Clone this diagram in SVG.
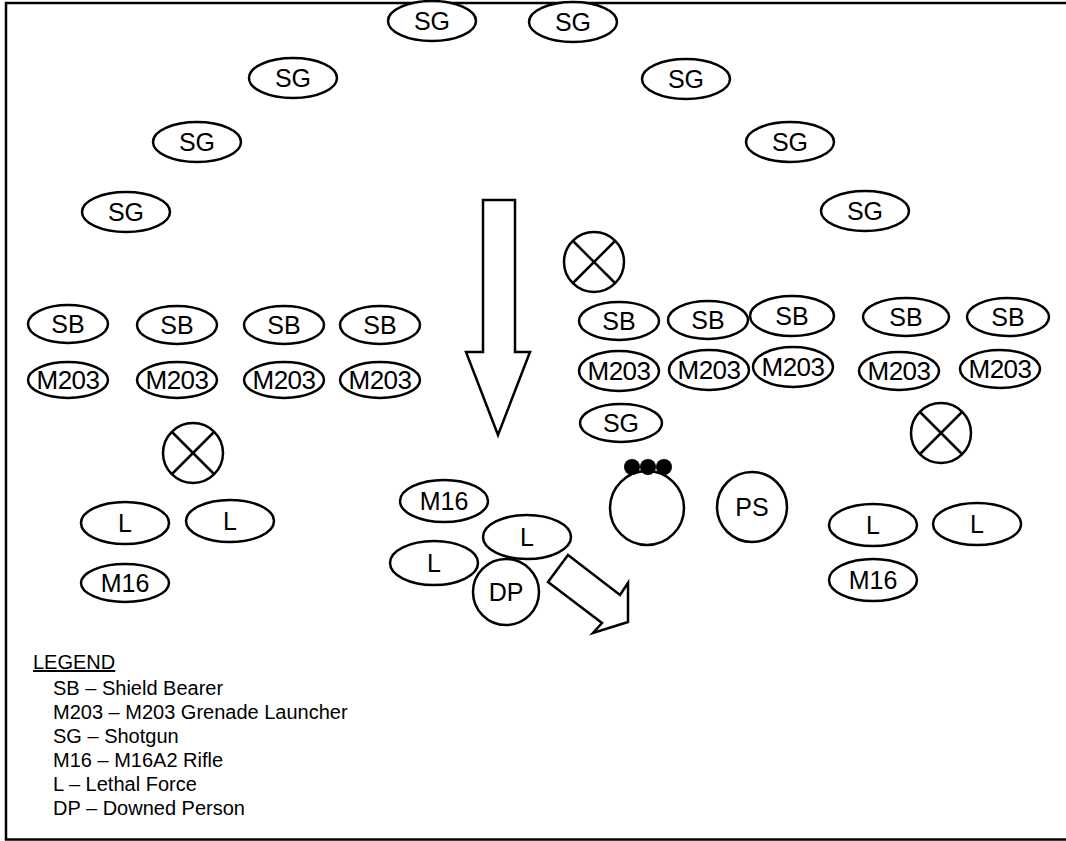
<svg xmlns="http://www.w3.org/2000/svg" width="1066" height="841" viewBox="0 0 1066 841">
<style>
.n ellipse, .n circle, .sh { fill: #fff; stroke: #000; stroke-width: 2.5; }
.n text { font-family: "Liberation Sans", Arial, sans-serif; font-size: 25px; text-anchor: middle; dominant-baseline: central; fill: #000; }
.n text.m { font-size: 26px; letter-spacing: -0.5px; }
.n circle.dot { fill: #000; stroke: none; }
.x line { stroke: #000; stroke-width: 2.5; }
.leg { font-family: "Liberation Sans", Arial, sans-serif; font-size: 20px; fill: #000; }
</style>
<rect width="1066" height="841" fill="#fff"/>
<path d="M1066,3 H6 V839.5 H1066" fill="none" stroke="#000" stroke-width="2.5"/>

<g id="connectors">
  <polygon class="sh" points="483,200 515,200 515,352 530,352 498,435 466,352 483,352"/>
  <polygon class="sh" points="568,555 620,595 628,583 628,622 593,633 602,623 548,582"/>
</g>

<g id="sg-top1" class="n"><ellipse cx="432" cy="21" rx="44" ry="20"/><text x="432" y="21">SG</text></g>
<g id="sg-top2" class="n"><ellipse cx="573" cy="22" rx="44" ry="20"/><text x="573" y="22">SG</text></g>
<g id="sg-l1" class="n"><ellipse cx="293" cy="78" rx="44" ry="20"/><text x="293" y="78">SG</text></g>
<g id="sg-r1" class="n"><ellipse cx="686" cy="79" rx="44" ry="20"/><text x="686" y="79">SG</text></g>
<g id="sg-l2" class="n"><ellipse cx="197" cy="142" rx="44" ry="20"/><text x="197" y="142">SG</text></g>
<g id="sg-r2" class="n"><ellipse cx="790" cy="142" rx="44" ry="20"/><text x="790" y="142">SG</text></g>
<g id="sg-l3" class="n"><ellipse cx="126" cy="212" rx="44" ry="20"/><text x="126" y="212">SG</text></g>
<g id="sg-r3" class="n"><ellipse cx="865" cy="211" rx="44" ry="20"/><text x="865" y="211">SG</text></g>

<g id="sb-l1" class="n"><ellipse cx="68" cy="324" rx="40" ry="19"/><text x="68" y="324">SB</text></g>
<g id="sb-l2" class="n"><ellipse cx="177" cy="325" rx="40" ry="19"/><text x="177" y="325">SB</text></g>
<g id="sb-l3" class="n"><ellipse cx="284" cy="325" rx="40" ry="19"/><text x="284" y="325">SB</text></g>
<g id="sb-l4" class="n"><ellipse cx="380" cy="325" rx="40" ry="19"/><text x="380" y="325">SB</text></g>
<g id="m203-l1" class="n"><ellipse cx="68" cy="380" rx="40" ry="18"/><text class="m" x="68" y="380">M203</text></g>
<g id="m203-l2" class="n"><ellipse cx="177" cy="380" rx="40" ry="18"/><text class="m" x="177" y="380">M203</text></g>
<g id="m203-l3" class="n"><ellipse cx="284" cy="380" rx="40" ry="18"/><text class="m" x="284" y="380">M203</text></g>
<g id="m203-l4" class="n"><ellipse cx="380" cy="380" rx="40" ry="18"/><text class="m" x="380" y="380">M203</text></g>

<g id="x-left" class="n x"><circle cx="193" cy="453" r="30"/><line x1="172" y1="432" x2="214" y2="474"/><line x1="214" y1="432" x2="172" y2="474"/></g>
<g id="l-l1" class="n"><ellipse cx="125" cy="523" rx="44" ry="21"/><text x="125" y="523">L</text></g>
<g id="l-l2" class="n"><ellipse cx="230" cy="521" rx="44" ry="21"/><text x="230" y="521">L</text></g>
<g id="m16-l" class="n"><ellipse cx="125" cy="583" rx="44" ry="19"/><text x="125" y="583">M16</text></g>

<g id="m16-m" class="n"><ellipse cx="444" cy="501" rx="44" ry="21"/><text x="444" y="501">M16</text></g>
<g id="l-m1" class="n"><ellipse cx="527" cy="537" rx="44" ry="22"/><text x="527" y="537">L</text></g>
<g id="l-m2" class="n"><ellipse cx="434" cy="563" rx="44" ry="22"/><text x="434" y="563">L</text></g>
<g id="dp" class="n"><circle cx="506" cy="592" r="33"/><text x="506" y="592">DP</text></g>

<g id="pole" class="n"><circle cx="647" cy="508" r="37"/><circle class="dot" cx="632" cy="467" r="8"/><circle class="dot" cx="648" cy="467" r="8"/><circle class="dot" cx="664" cy="467" r="8"/></g>
<g id="ps" class="n"><circle cx="752" cy="507" r="35"/><text x="752" y="507">PS</text></g>

<g id="x-right1" class="n x"><circle cx="594" cy="262" r="30"/><line x1="573" y1="241" x2="615" y2="283"/><line x1="615" y1="241" x2="573" y2="283"/></g>
<g id="sb-r1" class="n"><ellipse cx="619" cy="321" rx="40" ry="19"/><text x="619" y="321">SB</text></g>
<g id="sb-r2" class="n"><ellipse cx="708" cy="320" rx="40" ry="19"/><text x="708" y="320">SB</text></g>
<g id="sb-r3" class="n"><ellipse cx="792" cy="316" rx="42" ry="20"/><text x="792" y="316">SB</text></g>
<g id="sb-r4" class="n"><ellipse cx="906" cy="317" rx="43" ry="19"/><text x="906" y="317">SB</text></g>
<g id="sb-r5" class="n"><ellipse cx="1008" cy="317" rx="41" ry="19"/><text x="1008" y="317">SB</text></g>
<g id="m203-r1" class="n"><ellipse cx="619" cy="371" rx="40" ry="20"/><text class="m" x="619" y="371">M203</text></g>
<g id="m203-r2" class="n"><ellipse cx="709" cy="370" rx="40" ry="20"/><text class="m" x="709" y="370">M203</text></g>
<g id="m203-r3" class="n"><ellipse cx="793" cy="367" rx="40" ry="20"/><text class="m" x="793" y="367">M203</text></g>
<g id="m203-r4" class="n"><ellipse cx="899" cy="371" rx="40" ry="19"/><text class="m" x="899" y="371">M203</text></g>
<g id="m203-r5" class="n"><ellipse cx="1000" cy="369" rx="40" ry="19"/><text class="m" x="1000" y="369">M203</text></g>
<g id="sg-r4" class="n"><ellipse cx="621" cy="423" rx="41" ry="19"/><text x="621" y="423">SG</text></g>
<g id="x-right2" class="n x"><circle cx="941" cy="433" r="30"/><line x1="920" y1="412" x2="962" y2="454"/><line x1="962" y1="412" x2="920" y2="454"/></g>
<g id="l-r1" class="n"><ellipse cx="873" cy="525" rx="44" ry="21"/><text x="873" y="525">L</text></g>
<g id="l-r2" class="n"><ellipse cx="977" cy="524" rx="44" ry="21"/><text x="977" y="524">L</text></g>
<g id="m16-r" class="n"><ellipse cx="873" cy="580" rx="44" ry="21"/><text x="873" y="580">M16</text></g>

<g id="legend">
  <text class="leg" x="33" y="669" text-decoration="underline">LEGEND</text>
  <text class="leg" x="53" y="695">SB – Shield Bearer</text>
  <text class="leg" x="53" y="719">M203 – M203 Grenade Launcher</text>
  <text class="leg" x="53" y="743">SG – Shotgun</text>
  <text class="leg" x="53" y="767">M16 – M16A2 Rifle</text>
  <text class="leg" x="53" y="791">L – Lethal Force</text>
  <text class="leg" x="53" y="815">DP – Downed Person</text>
</g>
</svg>
